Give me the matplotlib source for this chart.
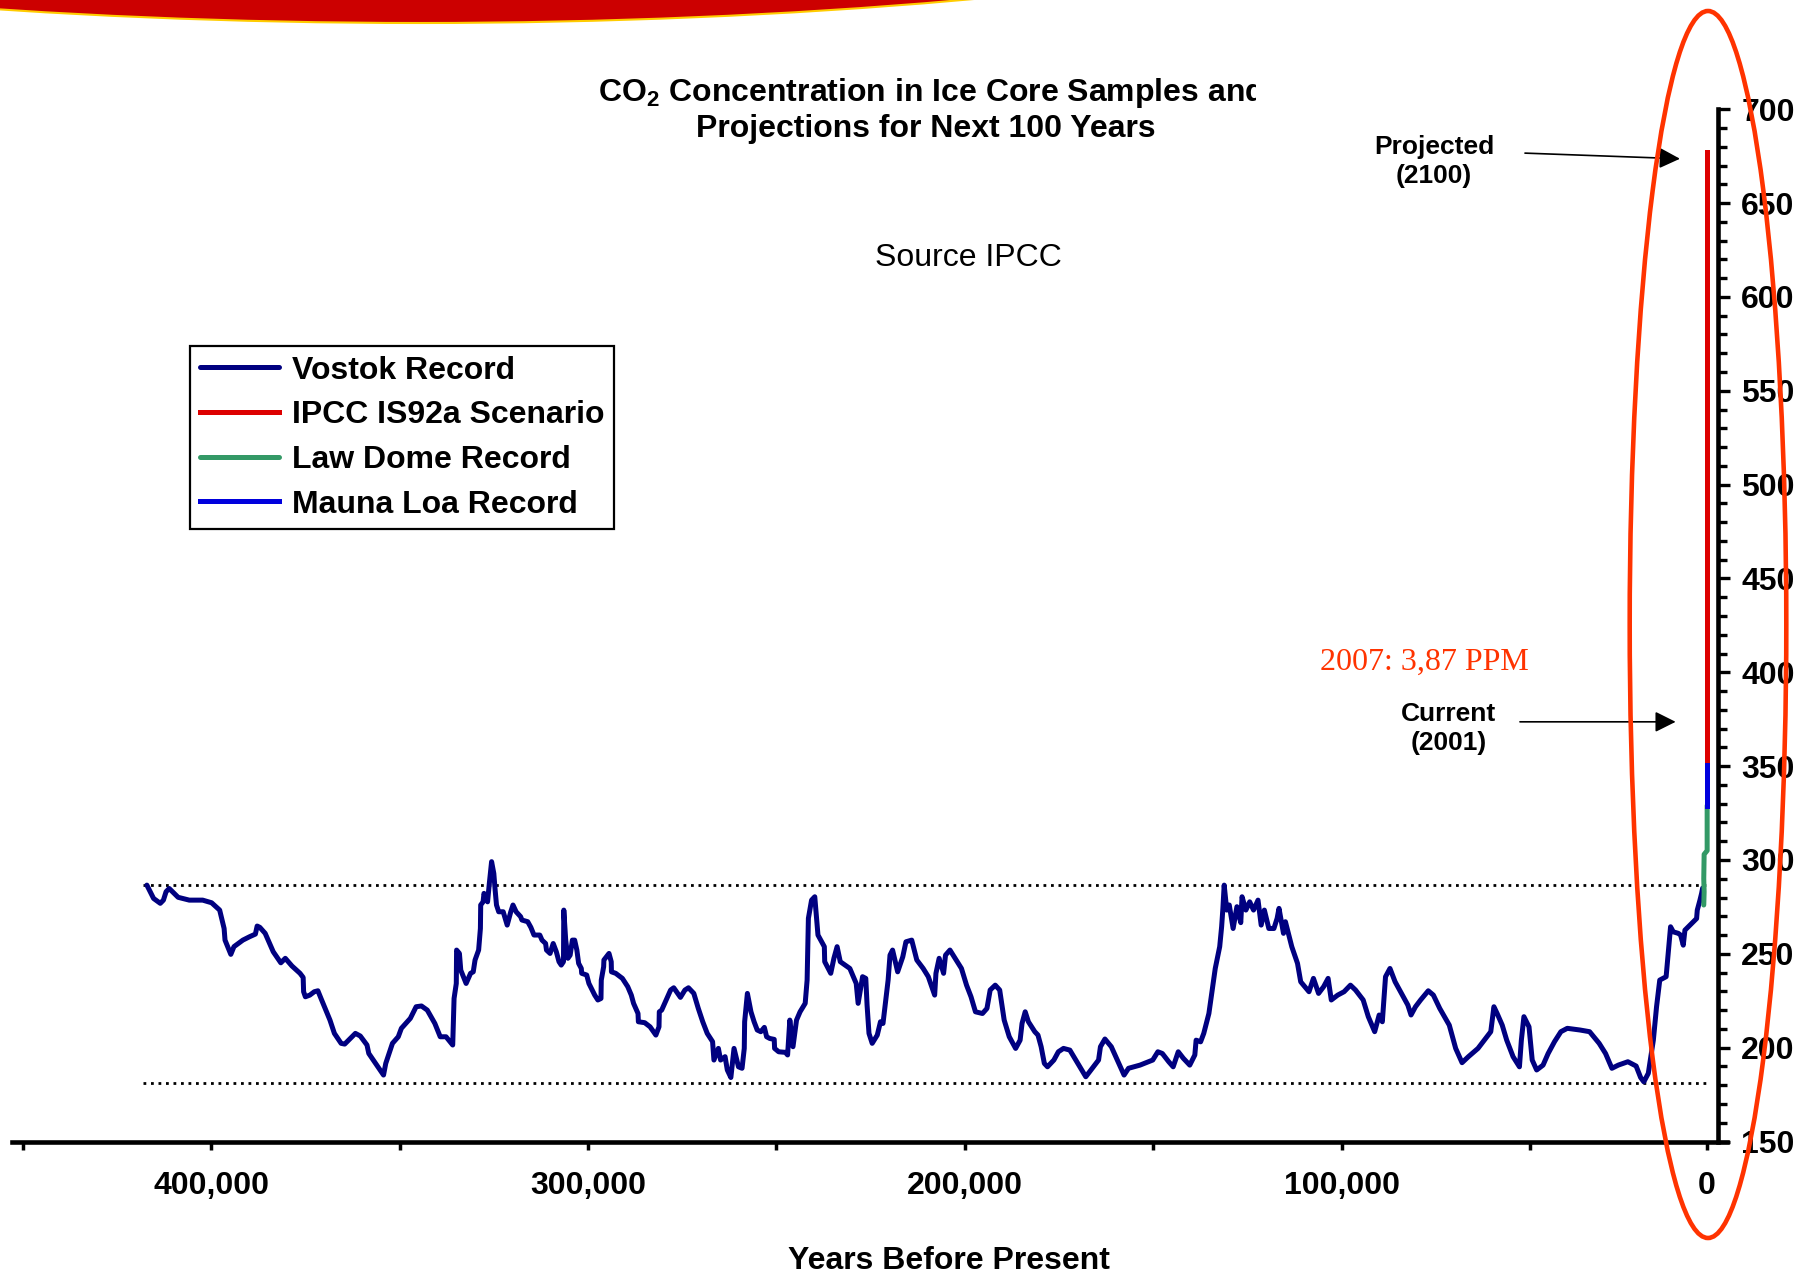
import matplotlib
matplotlib.use('Agg')
import matplotlib.pyplot as plt
from matplotlib.patches import Ellipse
from matplotlib.transforms import Bbox, TransformedBbox
from matplotlib.ticker import MultipleLocator

plt.rcParams['font.family'] = ['Liberation Sans', 'DejaVu Sans']
plt.rcParams['font.weight'] = 'bold'

# Vostok ice core record (years before present, CO2 ppm)
vostok_years = [
    417100, 415320, 413540, 412710, 412000, 411170, 408800, 405840, 402290, 399920,
    397780, 396600, 396360, 394820, 393990, 391620, 389840, 388300, 387830, 387120,
    385700, 383560, 381550, 380360, 378590, 376450, 375620, 375500, 375030, 373850,
    372660, 371710, 370880, 368510, 367330, 365550, 364600, 361760, 360460, 358680,
    358200, 354290, 353700, 351920, 350380, 349550, 347180, 345640, 344220, 342680,
    340670, 339240, 337700, 335930, 335570, 334980, 334900, 334150, 333790, 332370,
    331190, 330480, 330000, 329050, 328580, 328500, 327870, 327630, 326680, 326210,
    325610, 325020, 324670, 324310, 323720, 322530, 321470, 320520, 319930, 319100,
    317910, 317560, 316020, 315190, 314360, 312820, 312230, 311280, 311040, 310090,
    309260, 308430, 307720, 307130, 306530, 306450, 305940, 305350, 304760, 304170,
    303570, 302980, 302510, 301800, 301700, 300370, 299780, 298240, 297410, 296580,
    296500, 295870, 295800, 294450, 293860, 293800, 292670, 290900, 289480, 288530,
    287930, 286750, 286650, 284970, 283550, 282010, 281180, 281100, 280470, 279280,
    278100, 277270, 275490, 274300, 273360, 271940, 270750, 269570, 268380, 266960,
    266600, 265420, 264830, 263640, 263050, 262110, 261270, 260090, 259140, 258550,
    258450, 257720, 256770, 255940, 255110, 254160, 253220, 252620, 251790, 250600,
    250500, 249420, 247640, 247050, 246460, 245620, 244680, 243740,
    242380, 241870, 241530, 240690, 239840, 238990, 237300, 237200, 235600, 234760,
    233910, 233070, 230530, 228840, 228330, 227150, 226300, 225960, 225450, 224600,
    223250, 222400, 221730, 220370, 219870, 219190, 217840, 216480, 215640, 214110,
    212760, 211070, 209710, 208020, 207680, 206830, 205650, 205140, 203960, 202600,
    200910, 199560, 198370, 197190, 195330, 194140, 193290, 191940, 190760, 189570,
    188220, 186530, 185340, 184830, 183990, 183140, 181450, 180600, 179760, 178910,
    178070, 176380, 175190, 173830, 172140, 167910, 164520, 164020, 162830, 161140,
    157750, 156570, 153520, 150140, 148780, 147600, 145900, 144720, 143370, 142010,
    140320, 138970, 138630, 137440, 136600, 135240, 133550, 132370, 131860, 131520,
    131180, 130500, 129830, 128810, 127800, 126780, 126440, 125420, 124410, 123390,
    122200, 121360, 120520, 119330, 117980, 117130, 116630, 115440, 114930, 113240,
    111720, 110870, 108670, 107490, 106130, 104780, 103600, 102750, 101050, 99360,
    97670, 96320, 94290, 92930, 91240, 90050, 89210, 88360, 87180, 85820,
    84130, 82440, 81590, 80410, 79050, 77020, 75660, 73970, 71440, 69740,
    68050, 66360, 63820, 62130, 60430, 59590, 58740, 57390, 56200, 54510,
    52820, 52310, 51630, 50280, 49430, 48250, 46550, 45200, 43510, 41820,
    40120, 36740, 34200, 31660, 29970, 28280, 26580, 24040, 21850, 20660,
    19810, 18620, 17280, 16430, 15580, 13890, 13040, 12710, 11990, 10660,
    10050, 9340, 8900, 8010, 6690, 5800, 5620, 4910, 4470, 4200,
]
vostok_ppm = [
    286.6, 279.5, 276.9, 278.6, 283.1, 284.8, 280.1, 278.6, 278.6, 277.2,
    273.3, 263.5, 257.3, 249.7, 253.8, 257.3, 259.1, 260.5, 264.8, 264.1,
    260.9, 251.1, 245.2, 247.6, 243.5, 239.6, 237.4, 229.8, 227.1, 228.0,
    229.8, 230.3, 226.2, 214.7, 207.6, 202.3, 201.9, 207.6, 206.2, 201.4,
    196.9, 185.4, 191.6, 202.3, 205.8, 210.3, 215.6, 221.8, 222.2, 220.0,
    212.9, 205.8, 205.8, 201.4, 226.2, 234.2, 252.0, 250.2, 241.3, 234.2,
    239.6, 240.4, 246.7, 252.0, 263.5, 276.0, 277.7, 282.2, 277.7, 287.5,
    299.1, 292.8, 284.0, 276.0, 272.4, 272.4, 265.3, 272.4, 276.0, 272.4,
    269.8, 268.0, 267.1, 264.1, 260.0, 260.0, 257.3, 255.5, 252.0, 250.2,
    255.5, 251.1, 245.8, 244.0, 245.8, 273.3, 257.3, 247.6, 249.3, 257.3,
    257.3, 252.0, 244.9, 242.2, 239.6, 238.7, 234.2, 228.0, 225.4, 226.2,
    236.0, 243.1, 246.7, 250.2, 245.8, 240.4, 239.6, 236.9, 232.5, 228.0,
    223.6, 218.2, 213.8, 213.3, 211.1, 206.7, 211.1, 219.1, 220.0, 225.4,
    230.7, 231.9, 226.8, 230.7, 231.9, 228.9, 220.9, 213.8, 207.6, 203.2,
    193.4, 199.6, 193.4, 195.2, 188.1, 184.1, 199.6, 189.8, 189.0, 199.6,
    213.8, 228.9, 219.1, 213.8, 209.4, 208.5, 210.8, 205.8, 204.9, 204.4,
    199.6, 197.8, 197.5, 196.1, 214.7, 200.5, 214.7, 219.1,
    223.6, 236.0, 268.9, 278.6, 280.4, 260.0, 253.8, 245.8, 239.6, 247.6,
    253.8, 245.8, 242.2, 234.2, 223.6, 237.8, 236.9, 222.7, 207.6, 202.3,
    206.7, 213.8, 212.9, 236.0, 249.3, 252.0, 240.4, 248.4, 256.4, 257.3,
    246.7, 242.2, 237.8, 228.0, 239.6, 247.6, 239.6, 249.3, 252.0, 247.6,
    242.2, 233.3, 227.1, 219.1, 218.2, 220.9, 230.7, 233.3, 230.7, 214.7,
    205.8, 199.6, 204.0, 212.9, 219.1, 213.8, 208.5, 206.7, 200.5, 191.6,
    189.8, 193.4, 197.8, 199.6, 198.7, 184.5, 193.4, 200.5, 204.6, 200.5,
    185.4, 189.0, 190.7, 193.4, 197.8, 196.9, 192.5, 189.8, 197.8, 194.3,
    190.7, 196.1, 204.0, 203.1, 207.6, 218.2, 242.2, 253.8, 264.4, 274.2,
    286.6, 273.3, 276.0, 263.5, 275.1, 266.6, 280.4, 273.3, 277.7, 273.3,
    278.6, 265.3, 273.3, 263.5, 263.5, 268.9, 274.2, 260.9, 267.1, 253.8,
    244.9, 235.1, 229.8, 236.9, 228.9, 232.5, 236.9, 225.4, 228.0, 229.8,
    233.3, 230.7, 225.4, 216.5, 208.5, 217.4, 213.8, 237.8, 242.2, 235.1,
    228.9, 222.7, 217.4, 221.8, 225.4, 230.3, 228.0, 220.9, 212.0, 199.6,
    192.0, 195.2, 199.6, 204.0, 208.5, 221.8, 218.2, 212.0, 204.0, 195.2,
    189.8, 204.0, 216.5, 211.1, 193.4, 188.1, 190.7, 196.9, 203.2, 208.5,
    210.3, 209.4, 208.5, 202.3, 196.9, 189.0, 190.7, 192.5, 190.2, 184.1,
    181.8, 186.3, 204.0, 221.8, 236.0, 237.8, 257.3, 264.4, 261.7, 260.9,
    260.0, 254.6, 262.6, 264.4, 267.1, 268.8, 273.3, 278.6, 282.2, 285.0,
]

# recent records, all squeezed onto the "0" position of the axis
law_dome_years = [3900, 3800, 3900, 3800, 3000, 3000]
law_dome_ppm = [276, 283, 290, 303, 305, 329]
mauna_loa_years = [3000, 3000, 3000]
mauna_loa_ppm = [329, 340, 353]
ipcc_years = [3000, 3000]
ipcc_ppm = [353, 677]

ref_levels = [286.5, 181.0]
ref_span = (418000, 2500)

xtick_pos = [450000, 400000, 350000, 300000, 250000, 200000, 150000, 100000, 50000, 3000]
xtick_labels = ['', '400,000', '', '300,000', '', '200,000', '', '100,000', '', '0']

legend_labels = ['Vostok Record', 'IPCC IS92a Scenario', 'Law Dome Record', 'Mauna Loa Record']
colors = {'vostok': '#000080', 'ipcc': '#DD0000', 'law': '#339966', 'mauna': '#0000DD'}

W, H = 1807, 1274
fig = plt.figure(figsize=(W / 100, H / 100), dpi=100)


def fx(px):
    return px / W


def fy(py):
    return 1 - py / H


ax = fig.add_axes([fx(11.6), fy(1141.5), fx(1715.9), 1032.3 / H])
ax.patch.set_visible(False)

for lvl in ref_levels:
    ax.plot(ref_span, [lvl, lvl], color='black', lw=2.0, linestyle=(0, (1, 1.7)))

lw = 3.6
h_vostok, = ax.plot(vostok_years, vostok_ppm, color=colors['vostok'], lw=lw,
                    solid_joinstyle='round', solid_capstyle='round')
h_law, = ax.plot(law_dome_years, law_dome_ppm, color=colors['law'], lw=lw, solid_capstyle='round')
h_mauna, = ax.plot(mauna_loa_years, mauna_loa_ppm, color=colors['mauna'], lw=lw)
h_ipcc, = ax.plot(ipcc_years, ipcc_ppm, color=colors['ipcc'], lw=lw)

ax.set_xlim(453000, -2400)
ax.set_ylim(150, 700)

for s in ['top', 'left']:
    ax.spines[s].set_visible(False)
ax.spines['right'].set_position(('data', 0))
ax.spines['right'].set_linewidth(3.3)
ax.spines['bottom'].set_linewidth(3.3)
ax.yaxis.tick_right()

ax.set_xticks(xtick_pos)
ax.set_xticklabels(xtick_labels)
ax.yaxis.set_major_locator(MultipleLocator(50))
ax.yaxis.set_minor_locator(MultipleLocator(10))
ax.tick_params(axis='x', direction='out', length=6, width=2.5, pad=15, labelsize=23)
ax.tick_params(axis='y', which='major', direction='out', length=8.4, width=2.4, pad=8, labelsize=23)
ax.tick_params(axis='y', which='minor', direction='out', length=6.5, width=2.4)

leg = ax.legend([h_vostok, h_ipcc, h_law, h_mauna], legend_labels, loc='upper left',
                bbox_to_anchor=(fx(190), fy(346)), bbox_transform=fig.transFigure,
                fontsize=23, fancybox=False, framealpha=1, edgecolor='black',
                borderpad=0.3, labelspacing=0.46, handlelength=2.5, handletextpad=0.4,
                borderaxespad=0)
leg.get_frame().set_linewidth(1.6)

# annotations
arrow = dict(arrowstyle='-|>,head_length=0.9,head_width=0.45', color='black', lw=1.2,
             mutation_scale=14, shrinkA=0, shrinkB=0)
ax.annotate('', xy=(10220, 673.6), xytext=(51350, 676.6), arrowprops=arrow)
ax.annotate('', xy=(11360, 373.6), xytext=(52680, 373.6), arrowprops=arrow)
ax.text(75500, 672.0, 'Projected\n(2100)', fontsize=19, ha='center', va='center', linespacing=1.25)
ax.text(71650, 370.2, 'Current\n(2001)', fontsize=19, ha='center', va='center', linespacing=1.25)
ax.text(78050, 405.1, '2007: 3,87 PPM', fontsize=23, family=['Liberation Serif', 'DejaVu Serif'],
        fontweight='normal', color='#FF3300', ha='center', va='center')

# titles and axis label
t1 = fig.text(fx(598), fy(101.5), r'CO$_\mathregular{2}$ Concentration in Ice Core Samples and',
              fontsize=23, ha='left', va='baseline')
t1.set_clip_box(TransformedBbox(Bbox.from_extents(0, 0, fx(1256), 1), fig.transFigure))
t1.set_clip_on(True)
fig.text(fx(925.5), fy(137), 'Projections for Next 100 Years', fontsize=23, ha='center', va='baseline')
fig.text(fx(968), fy(266), 'Source IPCC', fontsize=23, fontweight='normal', ha='center', va='baseline')
fig.text(fx(949), fy(1269), 'Years Before Present', fontsize=23, ha='center', va='baseline')

# slide decorations: red banner at the top and the hand-drawn ellipse
fig.add_artist(Ellipse((fx(420), fy(-271)), 2800 / W, 588 / H, transform=fig.transFigure,
                       facecolor='#CC0000', edgecolor='#FFCC00', lw=1.5, zorder=10))
fig.add_artist(Ellipse((fx(1708), fy(624.5)), 156.6 / W, 1227 / H, transform=fig.transFigure,
                       fill=False, edgecolor='#FF3300', lw=3.3, zorder=10))

fig.savefig('out.png', dpi=100)
